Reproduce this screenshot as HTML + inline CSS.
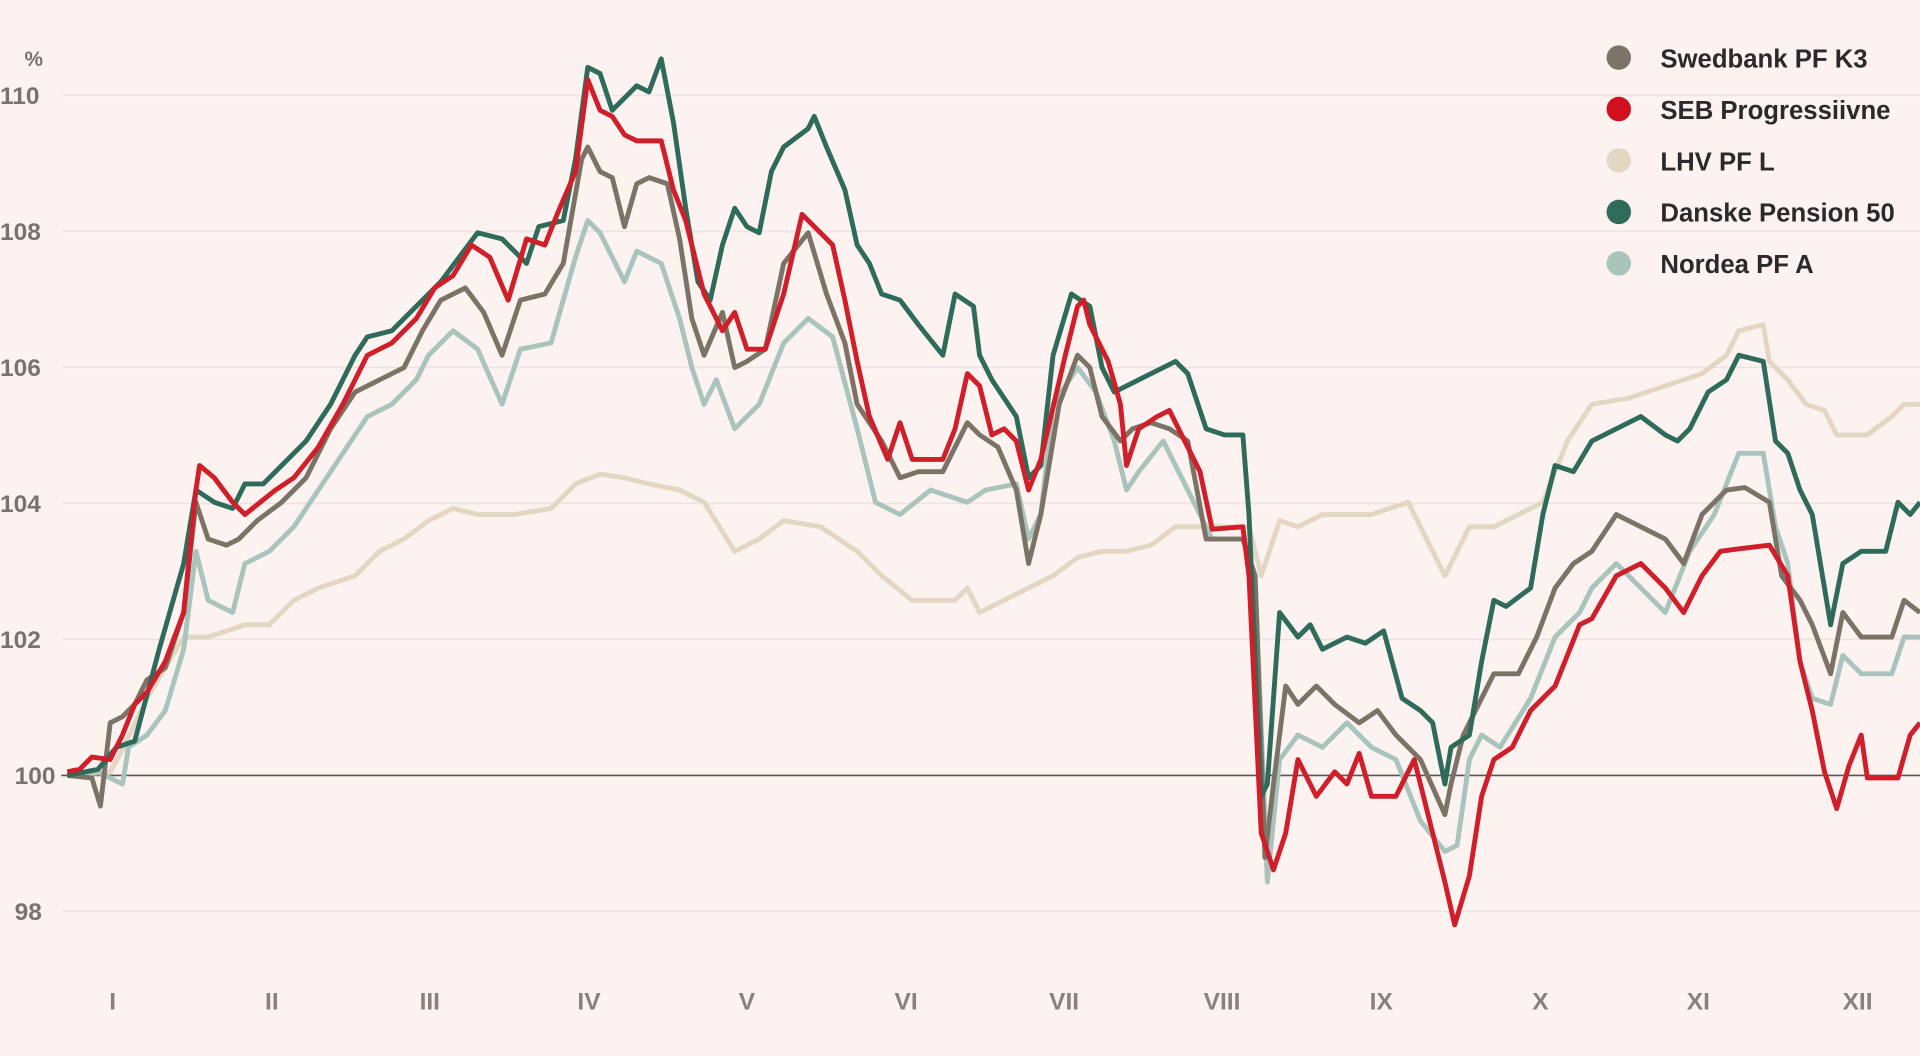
<!DOCTYPE html>
<html><head><meta charset="utf-8"><style>
html,body{margin:0;padding:0;background:#fcf3f1;}
svg{display:block;}
text{font-family:"Liberation Sans",sans-serif;}
</style></head><body>
<svg width="1920" height="1056" viewBox="0 0 1568 862" preserveAspectRatio="none">
<rect width="1568" height="862" fill="#fcf3f1"/>
<g stroke="#ece2df" stroke-width="1.2">
<line x1="50" y1="78" x2="1568" y2="78"/>
<line x1="50" y1="189" x2="1568" y2="189"/>
<line x1="50" y1="300" x2="1568" y2="300"/>
<line x1="50" y1="411" x2="1568" y2="411"/>
<line x1="50" y1="522" x2="1568" y2="522"/>
<line x1="50" y1="744" x2="1568" y2="744"/>
</g>
<line x1="50" y1="633" x2="1568" y2="633" stroke="#555" stroke-width="1.3"/>
<g font-size="20" fill="#7a7270" font-weight="bold">
<text x="20" y="54" font-size="17">%</text>
<text x="0" y="85">110</text>
<text x="0" y="196">108</text>
<text x="0" y="307">106</text>
<text x="0" y="418">104</text>
<text x="0" y="529">102</text>
<text x="12" y="640">100</text>
<text x="12" y="751">98</text>
</g>
<g font-size="20" fill="#8a817e" font-weight="bold" text-anchor="middle">
<text x="92" y="824">I</text><text x="222" y="824">II</text><text x="351" y="824">III</text>
<text x="481" y="824">IV</text><text x="610" y="824">V</text><text x="740" y="824">VI</text>
<text x="869" y="824">VII</text><text x="998" y="824">VIII</text><text x="1128" y="824">IX</text>
<text x="1258" y="824">X</text><text x="1387" y="824">XI</text><text x="1517" y="824">XII</text>
</g>
<g fill="none" stroke-width="4" stroke-linejoin="round">
<polyline stroke="#e3d6c2" points="55,633 90,630 100,612 120,570 135,545 150,520 170,520 200,510 220,510 240,490 260,480 290,470 310,450 330,440 350,425 370,415 390,420 420,420 450,415 470,395 490,387 510,390 530,395 555,400 575,410 600,450 620,440 640,425 670,430 700,450 720,470 745,490 760,490 780,490 790,480 800,500 820,490 840,480 860,470 880,455 900,450 920,450 940,445 960,430 980,430 1000,430 1020,430 1030,470 1045,425 1060,430 1080,420 1100,420 1120,420 1150,410 1165,440 1180,470 1200,430 1220,430 1240,420 1260,410 1280,360 1300,330 1330,325 1360,315 1390,305 1410,290 1420,270 1440,265 1445,295 1460,310 1475,330 1490,335 1500,355 1525,355 1545,340 1555,330 1568,330"/>
<polyline stroke="#a8c4bc" points="55,633 80,630 100,640 105,610 120,600 135,580 150,530 160,450 170,490 190,500 200,460 220,450 240,430 260,400 280,370 300,340 320,330 340,310 350,290 370,270 390,285 410,330 425,285 450,280 470,210 480,180 490,190 500,210 510,230 520,205 540,215 555,260 565,300 575,330 585,310 600,350 620,330 640,280 660,260 680,275 700,350 715,410 735,420 760,400 790,410 805,400 830,395 840,440 850,420 860,330 880,300 895,320 910,360 920,400 930,385 950,360 970,400 990,440 1015,440 1025,470 1035,720 1045,620 1060,600 1080,610 1100,590 1120,610 1140,620 1160,670 1180,695 1190,690 1200,620 1210,600 1225,610 1250,570 1270,520 1290,500 1300,480 1320,460 1340,480 1360,500 1380,450 1400,420 1420,370 1440,370 1450,430 1460,460 1470,540 1480,570 1495,575 1505,535 1520,550 1545,550 1555,520 1568,520"/>
<polyline stroke="#7c7265" points="55,633 75,635 82,658 90,590 100,585 110,575 120,555 135,545 150,500 160,410 170,440 185,445 195,440 210,425 230,410 250,390 270,350 290,320 310,310 330,300 345,270 360,245 380,235 395,255 410,290 425,245 445,240 460,215 475,130 480,120 490,140 500,145 510,185 520,150 530,145 545,150 555,195 565,260 575,290 590,255 600,300 610,295 625,285 640,215 660,190 675,240 690,280 700,330 720,360 735,390 750,385 770,385 790,345 800,355 815,365 830,400 840,460 850,420 865,330 880,290 890,300 900,340 915,360 925,350 940,345 955,350 970,360 985,440 1015,440 1025,470 1033,700 1040,640 1050,560 1060,575 1075,560 1090,575 1110,590 1125,580 1140,600 1160,620 1180,665 1185,640 1195,600 1210,570 1220,550 1240,550 1255,520 1270,480 1285,460 1300,450 1320,420 1340,430 1360,440 1375,460 1390,420 1410,400 1425,398 1445,410 1455,470 1470,490 1480,510 1495,550 1505,500 1520,520 1545,520 1555,490 1568,500"/>
<polyline stroke="#2e6b5a" points="55,633 80,628 95,610 110,605 130,530 150,460 160,400 175,410 190,415 200,395 215,395 230,380 250,360 270,330 290,290 300,275 320,270 340,250 360,230 390,190 410,195 430,215 440,185 460,180 470,130 480,55 490,60 500,90 510,80 520,70 530,75 540,48 550,100 560,170 570,230 580,245 590,200 600,170 610,185 620,190 630,140 640,120 660,105 665,95 675,120 690,155 700,200 710,215 720,240 735,245 750,265 770,290 780,240 795,250 800,290 810,310 830,340 840,390 850,380 860,290 875,240 890,250 900,300 910,320 930,310 950,300 960,295 970,305 985,350 1000,355 1015,355 1020,420 1030,650 1035,640 1045,500 1060,520 1070,510 1080,530 1100,520 1115,525 1130,515 1145,570 1160,580 1170,590 1180,640 1185,610 1200,600 1210,540 1220,490 1230,495 1250,480 1260,420 1270,380 1285,385 1300,360 1320,350 1340,340 1360,355 1370,360 1380,350 1395,320 1410,310 1420,290 1440,295 1450,360 1460,370 1470,400 1480,420 1490,480 1495,510 1505,460 1520,450 1540,450 1550,410 1560,420 1568,410"/>
<polyline stroke="#d01f2a" points="55,630 65,628 75,618 90,620 100,600 110,575 120,565 135,540 150,500 160,400 163,380 175,390 190,410 200,420 210,412 225,400 240,390 260,365 280,330 300,290 320,280 340,260 355,235 370,225 385,200 400,210 415,245 430,195 445,200 455,175 470,140 480,65 490,90 500,95 510,110 520,115 540,115 550,155 560,180 575,240 590,270 600,255 610,285 625,285 640,240 655,175 665,185 680,200 690,245 700,295 710,340 725,375 735,345 745,375 770,375 780,350 790,305 800,315 810,355 820,350 830,360 840,400 850,375 870,290 880,250 885,245 890,265 905,295 915,330 920,380 930,350 945,340 955,335 965,355 980,385 990,432 1015,430 1020,470 1030,680 1040,710 1050,680 1060,620 1075,650 1090,630 1100,640 1110,615 1120,650 1140,650 1155,620 1170,680 1180,720 1188,755 1200,715 1210,650 1220,620 1235,610 1250,580 1270,560 1290,510 1300,505 1320,470 1340,460 1360,480 1375,500 1390,470 1405,450 1420,448 1445,445 1460,470 1470,540 1480,580 1490,630 1500,660 1510,625 1520,600 1525,635 1550,635 1560,600 1568,590"/>
</g>
<g font-size="21" font-weight="bold" fill="#2a2a2a">
<circle cx="1322" cy="47" r="10" fill="#7c7265"/><text x="1356" y="55">Swedbank PF K3</text>
<circle cx="1322" cy="89" r="10" fill="#d0101e"/><text x="1356" y="97">SEB Progressiivne</text>
<circle cx="1322" cy="131" r="10" fill="#e3d6c2"/><text x="1356" y="139">LHV PF L</text>
<circle cx="1322" cy="173" r="10" fill="#2e6b5a"/><text x="1356" y="181">Danske Pension 50</text>
<circle cx="1322" cy="215" r="10" fill="#a8c4bc"/><text x="1356" y="223">Nordea PF A</text>
</g>
</svg>
</body></html>
